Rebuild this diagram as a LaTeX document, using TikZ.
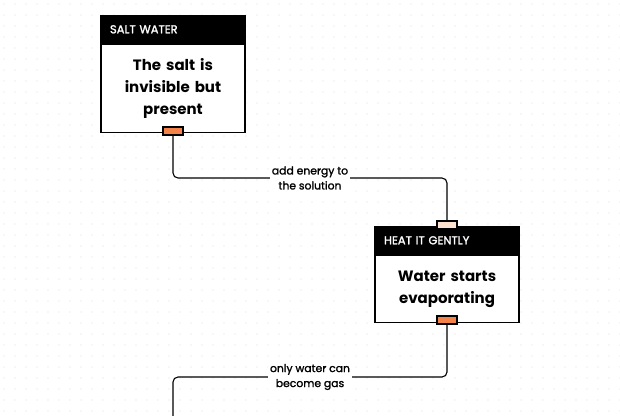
\documentclass[tikz,border=0pt]{standalone}
\usepackage{fontspec}
\setmainfont{Poppins}
\newfontfamily\semifont{Poppins}[FakeBold=1.6]
\usepackage{xcolor}
\usetikzlibrary{positioning}

\definecolor{portorange}{HTML}{F4834A}
\definecolor{portpeach}{HTML}{FDE3CF}
\definecolor{griddot}{HTML}{DEDEDE}

\tikzset{
  cardhead/.style={draw=black, line width=1.6pt, fill=black, text=white, minimum width=144, minimum height=27,
    inner sep=0pt, font=\semifont\fontsize{11.5}{13}\selectfont, text width=126, align=left},
  cardbody/.style={draw=black, line width=1.6pt, fill=white, minimum width=144, inner sep=0pt,
    font=\bfseries\fontsize{15}{22}\selectfont, text width=120, align=center},
  portout/.style={draw=black, line width=1.2pt, fill=portorange, minimum width=20, minimum height=8, inner sep=0pt},
  portin/.style={portout, fill=portpeach},
  wire/.style={line width=1.1pt, rounded corners=5},
  wirelabel/.style={fill=white, inner sep=2pt, font=\semifont\fontsize{10.8}{15}\selectfont, align=center}
}

\begin{document}
\begin{tikzpicture}[x=1pt,y=-1pt]
  \useasboundingbox (0,0) rectangle (620,415);

  % dot grid
  \foreach \gx in {4,15,...,620}
    \foreach \gy in {4,15,...,415}
      \fill[griddot] (\gx,\gy) circle (0.55);

  % salt water
  \node[cardhead, anchor=north] (salthead) at (173,15) {SALT WATER};
  \node[cardbody, below=0 of salthead, minimum height=88] (saltbody) {The salt is\\invisible but\\present};
  \node[portout] (saltout) at (173,131) {};

  % heat it gently
  \node[cardhead, anchor=north] (heathead) at (447,226) {HEAT IT GENTLY};
  \node[cardbody, below=0 of heathead, minimum height=67] (heatbody) {Water starts\\evaporating};
  \node[portin] (heatin) at (447,225) {};
  \node[portout] (heatout) at (447,320) {};

  \coordinate (gasend) at (173,416);

  % connectors
  \draw[wire] (saltout.south) |- (310,178) -| (heatin.north);
  \node[wirelabel] (energylabel) at (310,178) {add energy to\\the solution};

  \draw[wire] (heatout.south) |- (310,377) -| (gasend);
  \node[wirelabel] (gaslabel) at (310,377) {only water can\\become gas};
\end{tikzpicture}
\end{document}
